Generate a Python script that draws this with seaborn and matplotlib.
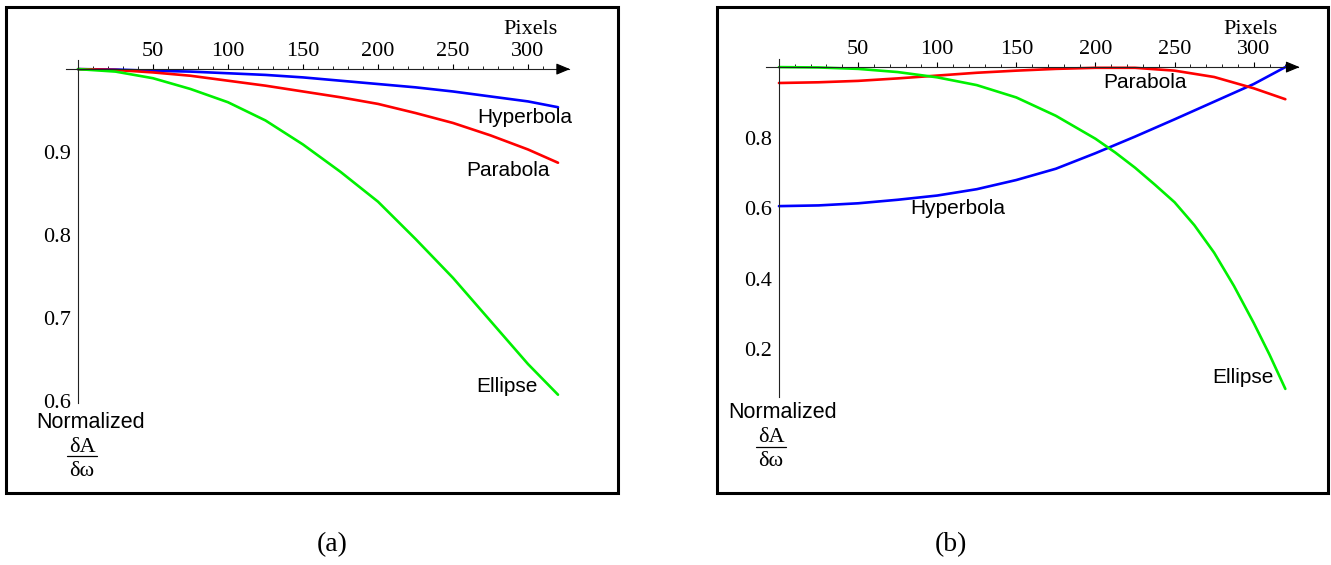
import numpy as np
import pandas as pd
import seaborn as sns
import matplotlib.pyplot as plt
from matplotlib.patches import Rectangle
from matplotlib.lines import Line2D
from matplotlib.ticker import MultipleLocator

#%% data
pixels = [0, 25, 50, 75, 100, 125, 150, 175, 200, 225, 250, 275, 300, 320]
pixels_fine = [0, 25, 50, 75, 100, 125, 150, 175, 200, 212.5, 225, 237.5, 250,
               262.5, 275, 287.5, 300, 310, 320]

# (a)
hyper_a = [1.0, 0.9995, 0.998, 0.997, 0.995, 0.993, 0.990, 0.986, 0.982, 0.978, 0.973, 0.967, 0.961, 0.954]
para_a = [1.0, 0.999, 0.996, 0.992, 0.986, 0.980, 0.973, 0.966, 0.958, 0.947, 0.935, 0.920, 0.903, 0.887]
ell_a = [1.0, 0.997, 0.989, 0.976, 0.960, 0.938, 0.909, 0.876, 0.840, 0.795, 0.748, 0.696, 0.644, 0.607]

# (b)
hyper_b = [0.606, 0.608, 0.614, 0.624, 0.636, 0.654, 0.680, 0.712, 0.756, 0.803, 0.852, 0.902, 0.952, 1.0]
para_b = [0.955, 0.957, 0.961, 0.968, 0.976, 0.984, 0.990, 0.995, 0.998, 0.998, 0.990, 0.972, 0.940, 0.909]
ell_b = [1.0, 0.999, 0.995, 0.986, 0.971, 0.949, 0.914, 0.862, 0.797, 0.758, 0.715, 0.667, 0.617,
         0.552, 0.474, 0.380, 0.275, 0.185, 0.088]

xticks = [50, 100, 150, 200, 250, 300]
yticks_a = [0.6, 0.7, 0.8, 0.9]
yticks_b = [0.2, 0.4, 0.6, 0.8]
colors = {'Hyperbola': '#0000ff', 'Parabola': '#ff0000', 'Ellipse': '#00f000'}

#%%
W, H = 1331, 565
sns.set_style('white')
plt.rcParams['font.family'] = ['Liberation Serif', 'DejaVu Serif']
for k in ['text.color', 'xtick.color', 'ytick.color', 'axes.labelcolor']:
    plt.rcParams[k] = 'black'
SANS = ['Liberation Sans', 'DejaVu Sans']

fig = plt.figure(figsize=(W / 100, H / 100), dpi=100)


def fpos(px, py):
    return px / W, 1 - py / H


def make_ax(left, right, top, bottom):
    return fig.add_axes([left / W, 1 - bottom / H, (right - left) / W, (bottom - top) / H])


def panel(ax, hyper, para, ell, ell_x, xmax, ylim, yticks, yminor):
    df = pd.DataFrame({
        'Pixels': pixels + pixels + ell_x,
        'value': hyper + para + ell,
        'curve': ['Hyperbola'] * len(pixels) + ['Parabola'] * len(pixels) + ['Ellipse'] * len(ell_x),
    })
    sns.lineplot(data=df, x='Pixels', y='value', hue='curve', palette=colors,
                 linewidth=1.9, legend=False, ax=ax, sort=False)
    for ln in ax.lines:
        ln.set_clip_on(False)
    ax.set_xlim(-8, xmax)
    ax.set_ylim(*ylim)
    ax.set_xlabel('')
    ax.set_ylabel('')
    ax.patch.set_alpha(0)
    for s in ['right', 'bottom']:
        ax.spines[s].set_visible(False)
    ax.spines['left'].set_position(('data', 0))
    ax.spines['top'].set_position(('data', 1))
    for s in ['left', 'top']:
        ax.spines[s].set_linewidth(0.8)
        ax.spines[s].set_color('#222222')
    ax.xaxis.set_ticks_position('top')
    ax.set_xticks(xticks)
    ax.xaxis.set_minor_locator(MultipleLocator(10))
    ax.set_yticks(yticks)
    ax.yaxis.set_minor_locator(MultipleLocator(yminor))
    ax.tick_params(axis='x', which='major', direction='out', length=3.5, width=0.8, pad=2, labelsize=16)
    ax.tick_params(axis='x', which='minor', direction='out', length=2, width=0.6)
    ax.tick_params(axis='y', which='major', direction='in', length=3.5, width=0.8, pad=5, labelsize=16)
    ax.tick_params(axis='y', which='minor', direction='in', length=2, width=0.6)
    ax.annotate('', xy=(xmax + 1, 1), xytext=(xmax - 6, 1),
                arrowprops=dict(arrowstyle='-|>,head_length=0.6,head_width=0.25',
                                color='black', lw=0.8, mutation_scale=14,
                                shrinkA=0, shrinkB=0),
                annotation_clip=False)


#%% panel (a)
ax1 = make_ax(66, 568.5, 60, 403)
panel(ax1, hyper_a, para_a, ell_a, pixels, 327, (0.597, 1.011), yticks_a, 0.02)
ax1.text(298, 0.941, 'Hyperbola', family=SANS, fontsize=15, ha='center', va='center')
ax1.text(287, 0.878, 'Parabola', family=SANS, fontsize=15, ha='center', va='center')
ax1.text(286, 0.617, 'Ellipse', family=SANS, fontsize=15, ha='center', va='center')

#%% panel (b)
ax2 = make_ax(766.3, 1298, 59, 397)
panel(ax2, hyper_b, para_b, ell_b, pixels_fine, 328, (0.065, 1.023), yticks_b, 0.05)
ax2.text(113, 0.600, 'Hyperbola', family=SANS, fontsize=15, ha='center', va='center')
ax2.text(231, 0.955, 'Parabola', family=SANS, fontsize=15, ha='center', va='center')
ax2.text(293, 0.119, 'Ellipse', family=SANS, fontsize=15, ha='center', va='center')

#%% outer labels, frames, captions
for px_pix, px_norm, py_norm, px_frac, py_a, py_bar, py_w in [
        (530, 91, 422, 82, 448, 456, 471),
        (1250, 783, 412, 771, 438, 447, 462)]:
    fig.text(*fpos(px_pix, 29), 'Pixels', fontsize=16, ha='center', va='center')
    fig.text(*fpos(px_norm, py_norm), 'Normalized', family=SANS, fontsize=15.5, ha='center', va='center')
    fig.text(*fpos(px_frac, py_a), '\u03b4A', fontsize=16, ha='center', va='center')
    fig.text(*fpos(px_frac, py_w), '\u03b4\u03c9', fontsize=16, ha='center', va='center')
    x0, y0 = fpos(px_frac - 15, py_bar)
    x1, _ = fpos(px_frac + 15, py_bar)
    fig.add_artist(Line2D([x0, x1], [y0, y0], color='black', lw=0.9))

for left, right in [(6, 618), (717, 1328)]:
    fig.add_artist(Rectangle(((left) / W, 1 - 493 / H), (right - left) / W, (493 - 7) / H,
                             fill=False, edgecolor='black', lw=2.2, transform=fig.transFigure))

fig.text(*fpos(332, 545), '(a)', fontsize=20, ha='center', va='center')
fig.text(*fpos(951, 545), '(b)', fontsize=20, ha='center', va='center')

fig.savefig('out.png', dpi=100)
